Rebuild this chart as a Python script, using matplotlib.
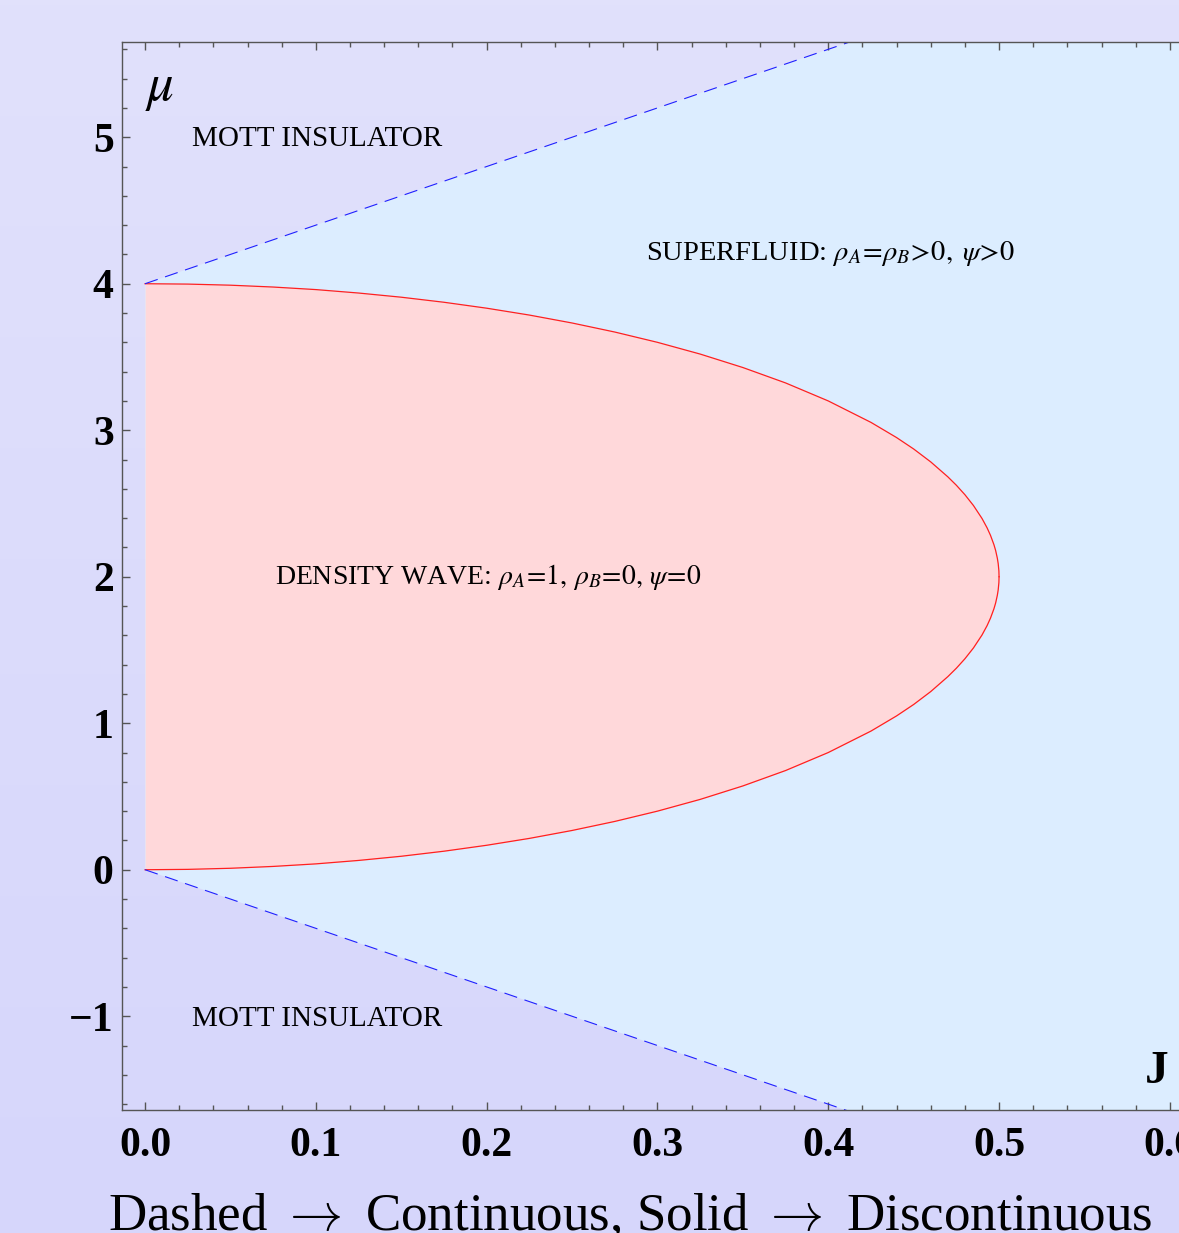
import numpy as np
import matplotlib
matplotlib.use("Agg")
import matplotlib.pyplot as plt
from matplotlib.ticker import MultipleLocator

plt.rcParams['font.family'] = ['Liberation Serif', 'DejaVu Serif']
plt.rcParams['mathtext.fontset'] = 'stix'

# density wave lobe (red solid boundary)
J_dw = [0.0, 0.025, 0.05, 0.075, 0.1, 0.125, 0.15, 0.175, 0.2, 0.225, 0.25, 0.275,
        0.3, 0.325, 0.35, 0.375, 0.4, 0.425, 0.44, 0.45, 0.46, 0.47, 0.475, 0.48,
        0.485, 0.49, 0.493, 0.495, 0.497, 0.498, 0.499, 0.4995, 0.4999, 0.5]
mu_dw_upper = [4.0, 3.9975, 3.990, 3.9774, 3.960, 3.9365, 3.908, 3.8735, 3.833, 3.7861,
               3.732, 3.6703, 3.600, 3.5199, 3.428, 3.3229, 3.200, 3.0536, 2.9499, 2.872,
               2.7838, 2.682, 2.6245, 2.560, 2.4862, 2.398, 2.3335, 2.282, 2.2188, 2.179,
               2.126, 2.089, 2.04, 2.0]
mu_dw_lower = [0.0, 0.0025, 0.010, 0.0226, 0.040, 0.0635, 0.092, 0.1265, 0.167, 0.2139,
               0.268, 0.3297, 0.400, 0.4801, 0.572, 0.6771, 0.800, 0.9464, 1.0501, 1.128,
               1.2162, 1.318, 1.3755, 1.440, 1.5138, 1.602, 1.6665, 1.718, 1.7812, 1.821,
               1.874, 1.911, 1.96, 2.0]

# superfluid / mott boundary (blue dashed)
J_sf = [0.0, 0.7]
mu_sf_upper = [4.0, 6.8]
mu_sf_lower = [0.0, -2.8]

xticks = [0.0, 0.1, 0.2, 0.3, 0.4, 0.5, 0.6]
yticks = [-1, 0, 1, 2, 3, 4, 5]

W, H = 1179, 1233
fig = plt.figure(figsize=(W / 100, H / 100), dpi=100)

# lavender gradient behind everything
bg = fig.add_axes([0, 0, 1, 1], zorder=-10)
grad = np.linspace(0, 1, 256).reshape(-1, 1)
top = np.array([225, 225, 251]) / 255
bot = np.array([214, 214, 251]) / 255
img = top + (bot - top) * grad[:, :, None]
bg.imshow(img, aspect='auto', extent=[0, 1, 0, 1])
bg.axis('off')

# axes: left spine at 122px, J=0 at 145px, 0.1 -> 171px
x0, x1 = -0.0135, 0.65
ax = fig.add_axes([122 / W, 1 - 1110 / H, (x1 - x0) * 1708 / W, (1110 - 42) / H])
ax.set_facecolor('none')
ax.set_xlim(x0, x1)
ax.set_ylim(-1.64, 5.65)

ax.fill_between(J_sf, mu_sf_lower, mu_sf_upper, color='#dcedff', lw=0, zorder=1)
ax.fill_between(J_dw, mu_dw_lower, mu_dw_upper, color='#ffd8da', lw=0, zorder=2)
ax.plot(J_dw, mu_dw_upper, color='#ff2020', lw=0.9, zorder=3)
ax.plot(J_dw, mu_dw_lower, color='#ff2020', lw=0.9, zorder=3)
ax.plot(J_sf, mu_sf_upper, color='#2020ff', lw=0.8, dashes=(12, 7), zorder=3)
ax.plot(J_sf, mu_sf_lower, color='#2020ff', lw=0.8, dashes=(12, 7), zorder=3)

for s in ax.spines.values():
    s.set_color('#555555')
    s.set_linewidth(1.0)
    s.set_zorder(4)

ax.set_xticks(xticks)
ax.set_yticks(yticks)
ax.set_xticklabels([f"{v:.1f}" for v in xticks])
ax.set_yticklabels(['\u22121' if v < 0 else str(v) for v in yticks])
ax.xaxis.set_minor_locator(MultipleLocator(0.02))
ax.yaxis.set_minor_locator(MultipleLocator(0.2))
ax.tick_params(which='both', direction='in', color='#555555', width=1.0,
               top=True, right=True)
ax.tick_params(which='major', length=6)
ax.tick_params(which='minor', length=3.6)
ax.tick_params(axis='x', which='major', pad=12)
ax.tick_params(axis='y', which='major', pad=6)
for lab in ax.get_xticklabels() + ax.get_yticklabels():
    lab.set_fontsize(30)
    lab.set_fontweight('bold')

ax.text(0.0275, 4.99, "MOTT INSULATOR", fontsize=21, va='center', ha='left', zorder=5)
ax.text(0.0275, -1.02, "MOTT INSULATOR", fontsize=21, va='center', ha='left', zorder=5)
ax.text(0.293, 4.205, r"SUPERFLUID: $\rho_A\!=\!\rho_B\!>\!0,\;\psi\!>\!0$",
        fontsize=20.5, va='center', ha='left', zorder=5)
ax.text(0.076, 2.0, r"DENSITY WAVE: $\rho_A\!=\!1,\,\rho_B\!=\!0,\,\psi\!=\!0$",
        fontsize=20, va='center', ha='left', zorder=5)
ax.text(0.0085, 5.33, r"$\mu$", fontsize=38, va='center', ha='center', zorder=5)
ax.text(0.592, -1.38, "J", fontsize=34, fontweight='bold', va='center', ha='center', zorder=5)

fig.text(630 / W, 1 - 1230 / H,
         r"Dashed $\rightarrow$ Continuous, Solid $\rightarrow$ Discontinuous",
         fontsize=38.2, ha='center', va='baseline', math_fontfamily='cm')

fig.savefig("out.png", dpi=100)
